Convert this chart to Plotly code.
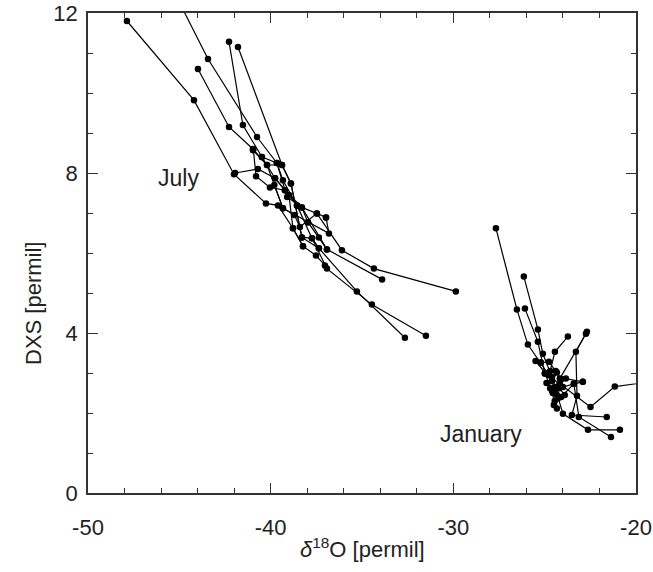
import plotly.graph_objects as go

# ---- Data ----
# July trajectories: delta18O [permil] and DXS [permil]
july_x = [
    [-47.87, -44.20, -42.01, -40.26, -39.60, -38.78, -38.23],
    [-45.70, -43.43, -40.75, -39.66, -39.33, -38.56, -37.47, -36.10, -34.35, -29.86],
    [-42.28, -41.52, -40.48, -39.76, -39.22, -38.29, -36.92, -33.90],
    [-41.79, -39.38, -38.89, -38.29, -37.36, -35.28, -32.65],
    [-43.98, -42.28, -40.97, -40.20, -39.33, -37.96, -36.81, -36.97],
    [-40.95, -40.80, -40.04, -39.22, -38.56, -37.74, -36.92, -34.46, -31.50],
    [-41.95, -40.70, -39.76, -39.00, -38.78, -38.23, -37.52, -37.03],
    [-40.48, -39.66, -39.10, -38.29, -37.96, -37.36, -36.92],
    [-40.97, -40.20, -39.38, -38.89, -38.29, -37.74, -37.36],
    [-39.80, -39.33, -38.70, -38.40, -37.47, -36.97],
]
july_y = [
    [11.80, 9.82, 7.97, 7.24, 7.19, 6.62, 6.17],
    [12.90, 10.85, 8.90, 8.25, 7.82, 7.19, 6.99, 6.07, 5.61, 5.04],
    [11.28, 9.20, 8.40, 7.87, 7.57, 7.14, 6.09, 5.34],
    [11.15, 8.20, 7.74, 6.39, 6.12, 5.04, 3.88],
    [10.60, 9.15, 8.60, 8.20, 7.12, 6.77, 6.49, 6.89],
    [8.59, 7.92, 7.64, 7.57, 7.19, 6.37, 5.61, 4.71, 3.93],
    [8.00, 8.10, 7.87, 7.45, 6.62, 6.17, 5.94, 5.69],
    [8.40, 8.25, 7.40, 7.14, 6.77, 6.39, 6.09],
    [8.57, 8.20, 8.20, 7.74, 6.39, 6.37, 6.12],
    [7.70, 7.12, 6.95, 6.65, 6.99, 6.89],
]

# January trajectories
january_x = [
    [-27.67, -26.52, -25.92, -25.21, -24.77, -24.40, -24.33],
    [-26.14, -25.37, -25.10, -24.60, -24.20, -23.84, -22.91],
    [-26.08, -25.37, -24.99, -24.60, -24.10, -23.40, -23.13, -21.37],
    [-23.73, -24.44, -24.70, -24.45, -24.00, -22.63, -20.88],
    [-22.69, -23.29, -23.23, -23.51, -21.60],
    [-22.74, -24.17, -24.55, -24.17, -22.49, -21.16, -18.40],
    [-25.50, -24.99, -24.60, -24.33, -24.00, -23.40, -22.91],
    [-25.21, -24.77, -24.40, -24.10, -24.33, -24.50, -24.28],
    [-24.90, -24.60, -24.20, -23.90, -24.45, -24.70],
]
january_y = [
    [6.62, 4.59, 3.71, 3.26, 2.95, 2.60, 2.11],
    [5.41, 4.09, 3.48, 2.90, 2.70, 2.86, 2.78],
    [4.61, 3.78, 2.98, 2.60, 2.40, 2.73, 1.90, 1.40],
    [3.91, 3.53, 3.05, 2.65, 1.98, 1.58, 1.58],
    [4.03, 3.53, 2.43, 1.95, 1.90],
    [3.98, 2.86, 2.50, 2.73, 2.15, 2.66, 2.83],
    [3.30, 3.00, 2.80, 3.01, 2.65, 2.73, 2.78],
    [3.26, 3.28, 3.05, 2.85, 2.45, 2.20, 2.36],
    [2.75, 2.55, 2.62, 2.45, 2.30, 2.62],
]

x_tickvals = [-50, -40, -30, -20]
x_ticktext = ["-50", "-40", "-30", "-20"]
y_tickvals = [0, 4, 8, 12]
y_ticktext = ["0", "4", "8", "12"]

FONT = "Liberation Sans, Arial, Helvetica, sans-serif"
TXT = "#222222"

fig = go.Figure()
for xs, ys in list(zip(july_x, july_y)) + list(zip(january_x, january_y)):
    fig.add_trace(go.Scatter(
        x=xs, y=ys, mode="lines+markers",
        line=dict(color="black", width=1.2),
        marker=dict(color="black", size=6.5),
        showlegend=False, cliponaxis=True, hoverinfo="skip",
    ))

axis_common = dict(
    showgrid=False, zeroline=False, showline=True, linecolor="#333333",
    linewidth=1.5, mirror="allticks", ticks="inside", ticklen=10,
    tickwidth=1.2, tickcolor="#333333", automargin=False,
    tickfont=dict(family=FONT, size=22, color=TXT),
)

fig.update_xaxes(
    range=[-50, -20], tickvals=x_tickvals, ticktext=x_ticktext,
    minor=dict(dtick=2, ticks="inside", ticklen=5, tickcolor="#333333", tickwidth=1),
    ticklabelstandoff=14,
    **axis_common,
)
fig.update_yaxes(
    range=[0, 12], tickvals=y_tickvals, ticktext=y_ticktext,
    minor=dict(dtick=1, ticks="inside", ticklen=5, tickcolor="#333333", tickwidth=1),
    ticklabelstandoff=4,
    **axis_common,
)

fig.add_annotation(x=-45.07, y=7.87, xref="x", yref="y", text="July",
                   showarrow=False, font=dict(family=FONT, size=23, color=TXT))
fig.add_annotation(x=-28.49, y=1.48, xref="x", yref="y", text="January",
                   showarrow=False, font=dict(family=FONT, size=23, color=TXT))
fig.add_annotation(x=0.5, y=0, xref="paper", yref="paper", yshift=-55,
                   text="<i>δ</i><sup>18</sup>O [permil]", showarrow=False,
                   yanchor="middle", font=dict(family=FONT, size=22, color=TXT))
fig.add_annotation(x=0, y=(493 - 304) / 480, xref="paper", yref="paper", xshift=-55,
                   text="DXS [permil]", textangle=-90, showarrow=False,
                   xanchor="center", yanchor="middle",
                   font=dict(family=FONT, size=22, color=TXT))

fig.update_layout(
    width=653, height=572,
    margin=dict(l=88, r=17, t=13, b=79),
    paper_bgcolor="white", plot_bgcolor="white",
)

fig.write_html(
    "out.html",
    config={"displayModeBar": False},
    post_script=(
        "document.documentElement.style.overflow='hidden';"
        "document.body.style.margin='0';"
        "document.body.style.overflow='hidden';"
    ),
)
